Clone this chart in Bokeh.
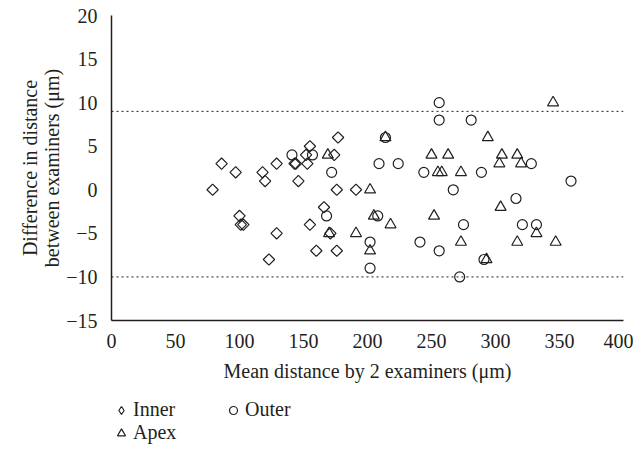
import math
from bokeh.plotting import figure
from bokeh.layouts import column
from bokeh.models import Span, Legend, LegendItem, FixedTicker
from bokeh.embed import file_html
from bokeh.resources import INLINE

inner_x = [79, 86, 97, 100, 101, 103, 118, 120, 123, 129, 129, 143, 144, 146, 152, 153, 155, 155,
           160, 166, 171, 174, 177, 176, 176, 191]
inner_y = [0, 3, 2, -3, -4, -4, 2, 1, -8, 3, -5, 3, 3, 1, 4, 3, 5, -4,
           -7, -2, -5, 4, 6, 0, -7, 0]

apex_x = [169, 170, 191, 202, 202, 205, 214, 218, 250, 263, 255, 258, 273, 252, 273, 294, 293,
          305, 303, 304, 317, 320, 332, 317, 347, 345]
apex_y = [4, -5, -5, 0, -7, -3, 6, -4, 4, 4, 2, 2, 2, -3, -6, 6, -8,
          4, 3, -2, 4, 3, -5, -6, -6, 10]

outer_x = [141, 157, 172, 168, 202, 202, 208, 209, 214, 224, 241, 244, 256, 256, 281, 256, 267,
           275, 289, 291, 272, 328, 316, 321, 332, 359]
outer_y = [4, 4, 2, -3, -6, -9, -3, 3, 6, 3, -6, 2, 10, 8, 8, -7, 0,
           -4, 2, -8, -10, 3, -1, -4, -4, 1]

limits = [9, -10]
x_ticks = [0, 50, 100, 150, 200, 250, 300, 350, 400]
y_ticks = [-15, -10, -5, 0, 5, 10, 15, 20]
series_names = ["Inner", "Apex", "Outer"]

INK = "#231f20"
FONT = "Liberation Serif"
FS = "20px"
NAN = float("nan")

p = figure(width=633, height=390, x_range=(0, 400), y_range=(-15, 20),
           output_backend="svg", toolbar_location=None,
           min_border_left=111, min_border_right=10, min_border_top=15, min_border_bottom=70)
p.outline_line_color = None
p.grid.visible = False

for ax in (p.xaxis[0], p.yaxis[0]):
    ax.axis_line_color = INK
    ax.axis_line_width = 1.5
    ax.major_tick_line_color = None
    ax.minor_tick_line_color = None
    ax.major_label_text_font = FONT
    ax.major_label_text_font_size = FS
    ax.major_label_text_color = INK
    ax.axis_label_text_font = FONT
    ax.axis_label_text_font_size = FS
    ax.axis_label_text_font_style = "normal"
    ax.axis_label_text_color = INK
    ax.axis_label_text_line_height = 1.0

p.xaxis.ticker = FixedTicker(ticks=x_ticks)
p.yaxis.ticker = FixedTicker(ticks=y_ticks)
p.xaxis.major_label_standoff = 7
p.yaxis.major_label_standoff = 8
p.xaxis.axis_label = "Mean distance by 2 examiners (\u03bcm)"
p.yaxis.axis_label = "Difference in distance\nbetween examiners (\u03bcm)"
p.xaxis.axis_label_standoff = 9
p.yaxis.axis_label_standoff = 0

for v in limits:
    p.add_layout(Span(location=v, dimension="width", line_color=INK,
                      line_width=1, line_dash="2 3"))

p.scatter(inner_x, inner_y, marker="square", angle=math.pi / 4, size=8,
          fill_color=None, line_color=INK, line_width=1.2)
p.scatter(apex_x, apex_y, marker="triangle", size=11,
          fill_color=None, line_color=INK, line_width=1.2)
p.scatter(outer_x, outer_y, marker="circle", size=10,
          fill_color=None, line_color=INK, line_width=1.2)

# legend panel underneath (same marker styles)
q = figure(width=633, height=60, x_range=(0, 1), y_range=(0, 1),
           output_backend="svg", toolbar_location=None,
           min_border_left=107, min_border_right=0, min_border_top=8, min_border_bottom=0)
q.axis.visible = False
q.grid.visible = False
q.outline_line_color = None
lg_inner = q.scatter([NAN], [NAN], marker="diamond", size=10, fill_color=None, line_color=INK, line_width=1.2)
lg_apex = q.scatter([NAN], [NAN], marker="triangle", size=10, fill_color=None, line_color=INK, line_width=1.2)
lg_outer = q.scatter([NAN], [NAN], marker="circle", size=10, fill_color=None, line_color=INK, line_width=1.2)

legend = Legend(items=[LegendItem(label=series_names[0], renderers=[lg_inner]),
                       LegendItem(label=series_names[1], renderers=[lg_apex]),
                       LegendItem(label=series_names[2], renderers=[lg_outer])],
                location="top_left", nrows=2,
                border_line_color=None, background_fill_alpha=0,
                margin=0, padding=0, spacing=0,
                glyph_width=20, glyph_height=20, label_standoff=2, label_width=90,
                label_text_font=FONT, label_text_font_size=FS, label_text_color=INK)
q.add_layout(legend, "center")

open("out.html", "w").write(file_html(column(p, q, spacing=0), INLINE))
